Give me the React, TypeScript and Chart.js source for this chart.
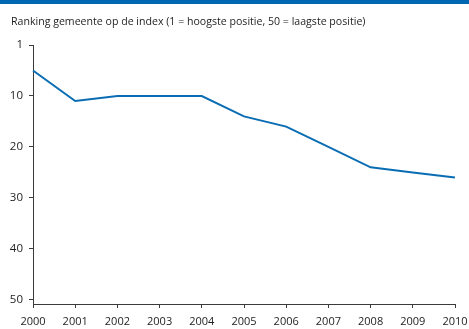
import React, { useEffect, useRef } from "react";
import { Chart, registerables } from "chart.js";

Chart.register(...registerables);

const years = ["2000", "2001", "2002", "2003", "2004", "2005", "2006", "2007", "2008", "2009", "2010"];
const ranking = [5, 11, 10, 10, 10, 14, 16, 20, 24, 25, 26];
const yTickValues = [0, 10, 20, 30, 40, 50];
const yTickLabels = ["1", "10", "20", "30", "40", "50"];
const title = "Ranking gemeente op de index (1 = hoogste positie, 50 = laagste positie)";

const BLUE = "#0a6db3";
const TEXT = "#1e1e1e";
const AXIS = "#3a3a3a";
const FONT = "'Open Sans', 'Noto Sans', sans-serif";

const headerPlugin = {
  id: "header",
  afterDraw(chart: any) {
    const ctx = chart.ctx;
    ctx.save();
    ctx.fillStyle = "#0068b2";
    ctx.fillRect(0, 0, chart.width, 4);
    ctx.fillStyle = TEXT;
    ctx.font = `10.6px ${FONT}`;
    ctx.textBaseline = "middle";
    ctx.textAlign = "left";
    ctx.fillText(title, 11, 22);
    ctx.restore();
  },
};

export default function App() {
  const ref = useRef<HTMLCanvasElement>(null);
  useEffect(() => {
    if (!ref.current) return;
    const chart = new Chart(ref.current, {
      type: "line",
      data: {
        labels: years,
        datasets: [
          {
            data: ranking,
            borderColor: BLUE,
            borderWidth: 2,
            pointRadius: 0,
            tension: 0,
            fill: false,
          },
        ],
      },
      options: {
        animation: false,
        responsive: false,
        maintainAspectRatio: false,
        layout: { padding: { top: 45, left: 0, right: 14, bottom: 0 } },
        plugins: { legend: { display: false }, tooltip: { enabled: false }, title: { display: false } },
        scales: {
          x: {
            type: "category",
            offset: false,
            grid: { drawOnChartArea: false, drawTicks: true, tickLength: 4, color: AXIS },
            border: { display: true, color: AXIS, width: 1 },
            ticks: { color: TEXT, font: { family: FONT, size: 11 }, padding: 7, maxRotation: 0, autoSkip: false },
            afterFit: (s: any) => {
              s.height = 25;
              s.paddingRight = 0;
              s.paddingLeft = 0;
            },
          },
          y: {
            type: "linear",
            reverse: true,
            min: 0,
            max: 50.8,
            grid: { drawOnChartArea: false, drawTicks: true, tickLength: 4, color: AXIS },
            border: { display: true, color: AXIS, width: 1 },
            ticks: {
              color: TEXT,
              font: { family: FONT, size: 11.5 },
              padding: 6,
              callback: (v: any) => {
                const i = yTickValues.indexOf(Number(v));
                return i >= 0 ? yTickLabels[i] : "";
              },
            },
            afterBuildTicks: (axis: any) => {
              axis.ticks = yTickValues.map((v) => ({ value: v }));
            },
            afterFit: (s: any) => {
              s.width = 33;
              s.paddingTop = 0;
              s.paddingBottom = 0;
            },
          },
        },
      },
      plugins: [headerPlugin],
    });
    return () => chart.destroy();
  }, []);
  return (
    <div style={{ position: "fixed", left: 0, top: 0, width: 469, height: 329, background: "#fff" }}>
      <canvas ref={ref} width={469} height={329} style={{ display: "block", width: 469, height: 329 }} />
    </div>
  );
}
